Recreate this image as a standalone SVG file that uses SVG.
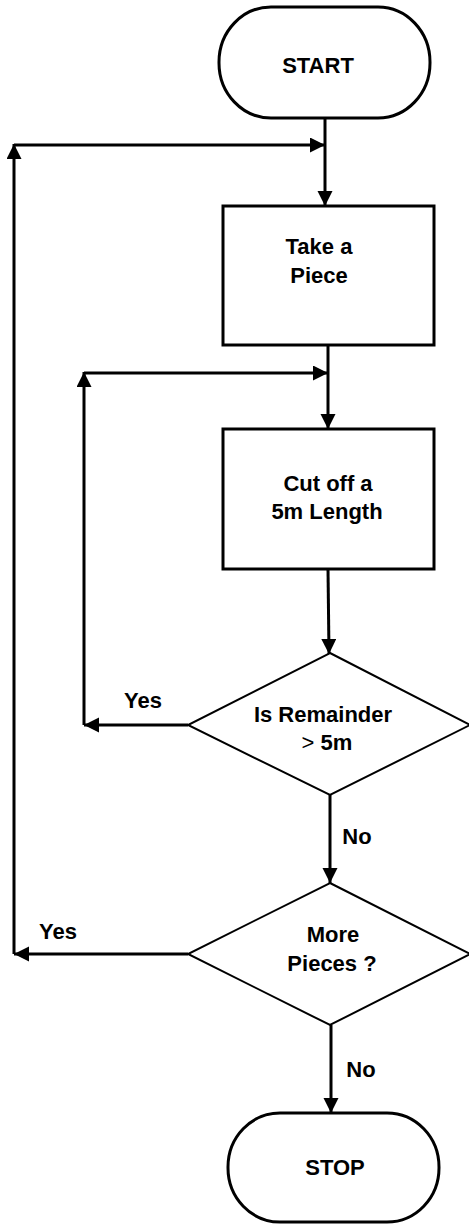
<svg xmlns="http://www.w3.org/2000/svg" width="469" height="1224" viewBox="0 0 469 1224">
<style>
.shape{fill:#fff;stroke:#000;stroke-width:3}
.dia{fill:#fff;stroke:#000;stroke-width:2}
.lbl{font-family:"Liberation Sans",Arial,sans-serif;font-weight:bold;font-size:22px;fill:#000;text-anchor:middle}
.thin{font-weight:normal}
.edge{fill:none;stroke:#000;stroke-width:3}
</style>
<defs>
<marker id="ah" markerUnits="userSpaceOnUse" markerWidth="16" markerHeight="16" refX="15" refY="7.5" orient="auto">
<path d="M0,0 L15,7.5 L0,15 z" fill="#000"/>
</marker>
</defs>
<g id="connectors">
<line class="edge" x1="325" y1="118" x2="325" y2="206" marker-end="url(#ah)"/>
<line class="edge" x1="188" y1="954" x2="14" y2="954" marker-end="url(#ah)"/>
<line class="edge" x1="14" y1="954" x2="14" y2="144" marker-end="url(#ah)"/>
<line class="edge" x1="14" y1="145" x2="325" y2="145" marker-end="url(#ah)"/>
<line class="edge" x1="328" y1="345" x2="328" y2="429" marker-end="url(#ah)"/>
<line class="edge" x1="188" y1="725" x2="84" y2="725" marker-end="url(#ah)"/>
<line class="edge" x1="84" y1="725" x2="84" y2="372" marker-end="url(#ah)"/>
<line class="edge" x1="84" y1="373" x2="328" y2="373" marker-end="url(#ah)"/>
<line class="edge" x1="328" y1="569" x2="329" y2="654" marker-end="url(#ah)"/>
<line class="edge" x1="330" y1="795" x2="330" y2="883" marker-end="url(#ah)"/>
<line class="edge" x1="331" y1="1025" x2="331" y2="1113" marker-end="url(#ah)"/>
<text class="lbl" x="143" y="708">Yes</text>
<text class="lbl" x="357" y="844">No</text>
<text class="lbl" x="58" y="939">Yes</text>
<text class="lbl" x="361" y="1077">No</text>
</g>
<g id="start">
<rect class="shape" x="219" y="7" width="211" height="111" rx="52" ry="55"/>
<text class="lbl" x="318" y="73">START</text>
</g>
<g id="take">
<rect class="shape" x="223" y="206" width="211" height="139"/>
<text class="lbl" x="319" y="254">Take a</text>
<text class="lbl" x="319" y="283">Piece</text>
</g>
<g id="cut">
<rect class="shape" x="223" y="429" width="211" height="140"/>
<text class="lbl" x="328" y="491">Cut off a</text>
<text class="lbl" x="327" y="519">5m Length</text>
</g>
<g id="remainder">
<polygon class="dia" points="330,653 470,725 330,795 188,725"/>
<text class="lbl" x="323" y="722">Is Remainder</text>
<text class="lbl" x="327" y="750"><tspan class="thin">&gt;</tspan> 5m</text>
</g>
<g id="more">
<polygon class="dia" points="330,883 470,954 330,1025 188,954"/>
<text class="lbl" x="333" y="942">More</text>
<text class="lbl" x="332" y="971">Pieces ?</text>
</g>
<g id="stop">
<rect class="shape" x="228" y="1113" width="211" height="109" rx="52" ry="54"/>
<text class="lbl" x="335" y="1175">STOP</text>
</g>
</svg>
